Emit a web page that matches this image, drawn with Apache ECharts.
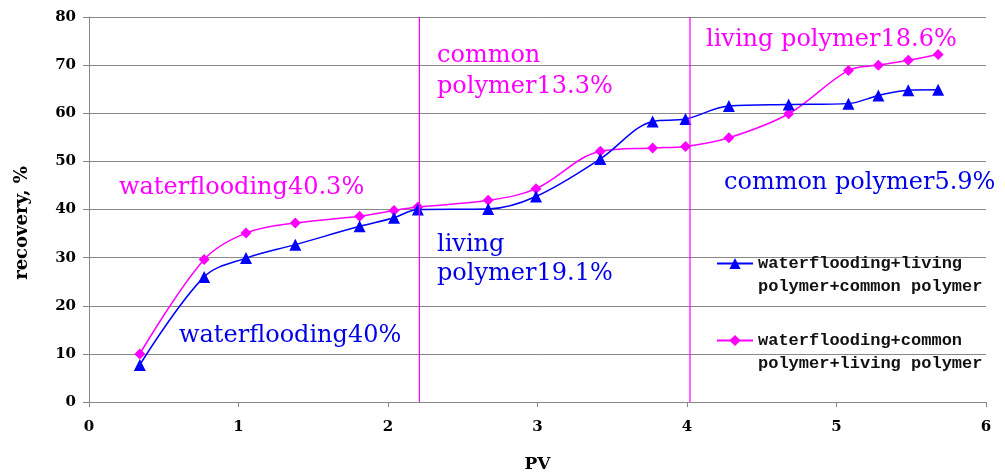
<!DOCTYPE html>
<html><head><meta charset="utf-8">
<script src="https://cdn.jsdelivr.net/npm/echarts@6/dist/echarts.min.js"></script>
<style>html,body{margin:0;padding:0;background:#fff}#c{width:1005px;height:475px}</style>
</head><body><div id="c"></div>
<script>
const pv = [0.34, 0.77, 1.05, 1.38, 1.81, 2.04, 2.2, 2.67, 2.99, 3.42, 3.77, 3.99, 4.28, 4.68, 5.08, 5.28, 5.48, 5.68];
const blueRecovery = [7.7, 26.0, 29.9, 32.7, 36.5, 38.3, 40.0, 40.1, 42.7, 50.5, 58.3, 58.8, 61.5, 61.8, 62.0, 63.7, 64.8, 64.9];
const pinkRecovery = [10.0, 29.6, 35.1, 37.2, 38.6, 39.8, 40.5, 41.9, 44.3, 52.1, 52.8, 53.1, 54.9, 59.9, 68.9, 70.0, 71.0, 72.2];
const seriesNames = ['waterflooding+living polymer+common polymer', 'waterflooding+common polymer+living polymer'];
const legendLines = ['waterflooding+living\npolymer+common polymer', 'waterflooding+common\npolymer+living polymer'];
const stageLines = [2.21, 4.02];
const xTicks = [0, 1, 2, 3, 4, 5, 6];
const yTicks = [0, 10, 20, 30, 40, 50, 60, 70, 80];
const annotations = [
  {text: 'waterflooding40.3%', x: 119, y: 188, color: '#FF00FF'},
  {text: 'waterflooding40%', x: 179, y: 336, color: '#0000E6'},
  {text: 'common', x: 437, y: 56, color: '#FF00FF'},
  {text: 'polymer13.3%', x: 437, y: 87, color: '#FF00FF'},
  {text: 'living', x: 437, y: 245, color: '#0000E6'},
  {text: 'polymer19.1%', x: 437, y: 274, color: '#0000E6'},
  {text: 'living polymer18.6%', x: 706, y: 40, color: '#FF00FF'},
  {text: 'common polymer5.9%', x: 724, y: 183, color: '#0000E6'}
];

const yMin = yTicks[0], yMax = yTicks[yTicks.length - 1];
const chart = echarts.init(document.getElementById('c'));
const axisFont = {fontFamily: 'DejaVu Serif', fontWeight: 'bold', fontSize: 15, color: '#000'};
const stageSeries = stageLines.map((v, k) => ({
  name: 'stage' + k, type: 'line', z: 10, silent: true, symbol: 'none',
  data: [[v, yMin], [v, yMax]],
  lineStyle: {color: '#FF00FF', width: 1.2}, itemStyle: {color: '#FF00FF'}
}));
chart.setOption({
  animation: false,
  backgroundColor: '#fff',
  grid: {left: 89, right: 19, top: 17, bottom: 73, outerBoundsMode: 'none', containLabel: false},
  legend: {
    orient: 'vertical', left: 716, top: 229, padding: 0, itemGap: 8,
    itemWidth: 36, itemHeight: 14,
    data: seriesNames,
    formatter: n => '\n' + legendLines[seriesNames.indexOf(n)],
    textStyle: {fontFamily: 'Liberation Mono', fontWeight: 'bold', fontSize: 17, color: '#111', lineHeight: 23}
  },
  xAxis: {
    type: 'value', min: xTicks[0], max: xTicks[xTicks.length - 1], interval: 1,
    name: 'PV', nameLocation: 'middle', nameGap: 54,
    nameTextStyle: {fontFamily: 'DejaVu Serif', fontWeight: 'bold', fontSize: 17, color: '#000'},
    axisLine: {lineStyle: {color: '#888', width: 1}},
    axisTick: {show: true, length: 5, lineStyle: {color: '#888'}},
    axisLabel: Object.assign({margin: 18}, axisFont),
    splitLine: {show: false},
    axisPointer: {show: false}
  },
  yAxis: {
    type: 'value', min: yMin, max: yMax, interval: 10,
    name: 'recovery, %', nameLocation: 'middle', nameGap: 58, nameRotate: 90,
    nameTextStyle: {fontFamily: 'DejaVu Serif', fontWeight: 'bold', fontSize: 18, color: '#000', padding: [0, 27, 0, 0]},
    axisLine: {show: true, lineStyle: {color: '#888', width: 1}},
    axisTick: {show: true, length: 6, lineStyle: {color: '#888'}},
    axisLabel: Object.assign({margin: 13}, axisFont),
    splitLine: {show: true, lineStyle: {color: '#888', width: 1}}
  },
  graphic: annotations.map(a => ({
    type: 'text', x: a.x, y: a.y, z: 100,
    style: {text: a.text, fill: a.color, font: 'normal 24px "DejaVu Serif"', verticalAlign: 'middle'}
  })),
  series: [
    {
      name: seriesNames[0], type: 'line', smooth: 0.35, z: 3,
      data: pv.map((x, i) => [x, blueRecovery[i]]),
      symbol: 'triangle', symbolSize: 12,
      lineStyle: {color: '#0000FF', width: 1.5},
      itemStyle: {color: '#0000FF'}
    },
    {
      name: seriesNames[1], type: 'line', smooth: 0.35, z: 2,
      data: pv.map((x, i) => [x, pinkRecovery[i]]),
      symbol: 'diamond', symbolSize: 11,
      lineStyle: {color: '#FF00FF', width: 1.5},
      itemStyle: {color: '#FF00FF'}
    }
  ].concat(stageSeries)
});
</script></body></html>
